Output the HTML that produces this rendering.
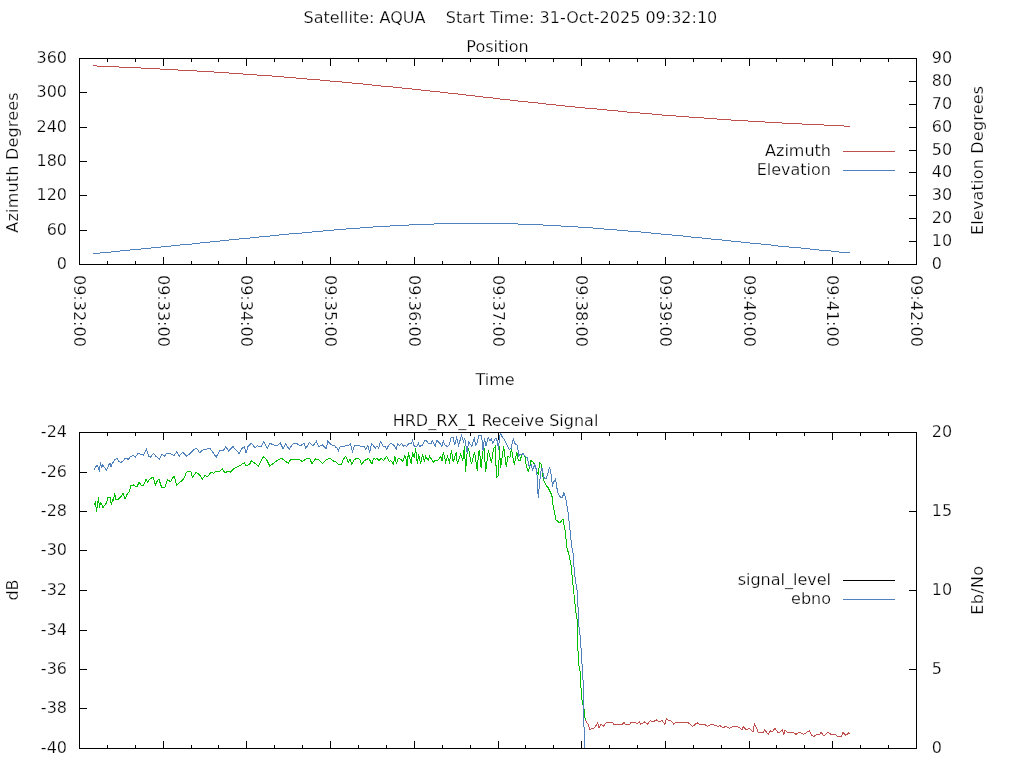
<!DOCTYPE html>
<html><head><meta charset="utf-8"><title>Satellite pass</title>
<style>html,body{margin:0;padding:0;background:#fff;overflow:hidden}svg{display:block}</style></head>
<body><svg width="1024" height="768" viewBox="0 0 1024 768">
<rect width="1024" height="768" fill="#fff"/>
<g font-family="'DejaVu Sans', 'Liberation Sans', sans-serif" font-size="16" fill="#000" stroke="#fff" stroke-width="0.25">
<text x="303.5" y="23" text-anchor="start" >Satellite: AQUA&#160;&#160;&#160; Start Time: 31-Oct-2025 09:32:10</text>
<text x="497.5" y="52" text-anchor="middle" >Position</text>
<text x="495" y="385" text-anchor="middle" >Time</text>
<text x="495.5" y="426" text-anchor="middle" >HRD_RX_1 Receive Signal</text>
<text transform="translate(18,162.4) rotate(-90)" text-anchor="middle" letter-spacing="0.2">Azimuth Degrees</text>
<text transform="translate(983,160.4) rotate(-90)" text-anchor="middle" letter-spacing="0.2">Elevation Degrees</text>
<text transform="translate(18,590) rotate(-90)" text-anchor="middle">dB</text>
<text transform="translate(983,590.2) rotate(-90)" text-anchor="middle" letter-spacing="0.3">Eb/No</text>
<text x="67" y="269" text-anchor="end" >0</text>
<text x="67" y="235" text-anchor="end" >60</text>
<text x="67" y="200" text-anchor="end" >120</text>
<text x="67" y="166" text-anchor="end" >180</text>
<text x="67" y="132" text-anchor="end" >240</text>
<text x="67" y="97" text-anchor="end" >300</text>
<text x="67" y="63" text-anchor="end" >360</text>
<text x="931.8" y="269" text-anchor="start" >0</text>
<text x="931.8" y="246" text-anchor="start" >10</text>
<text x="931.8" y="223" text-anchor="start" >20</text>
<text x="931.8" y="200" text-anchor="start" >30</text>
<text x="931.8" y="177" text-anchor="start" >40</text>
<text x="931.8" y="155" text-anchor="start" >50</text>
<text x="931.8" y="132" text-anchor="start" >60</text>
<text x="931.8" y="109" text-anchor="start" >70</text>
<text x="931.8" y="86" text-anchor="start" >80</text>
<text x="931.8" y="63" text-anchor="start" >90</text>
<text x="67" y="753" text-anchor="end" >-40</text>
<text x="67" y="713" text-anchor="end" >-38</text>
<text x="67" y="674" text-anchor="end" >-36</text>
<text x="67" y="635" text-anchor="end" >-34</text>
<text x="67" y="595" text-anchor="end" >-32</text>
<text x="67" y="555" text-anchor="end" >-30</text>
<text x="67" y="516" text-anchor="end" >-28</text>
<text x="67" y="477" text-anchor="end" >-26</text>
<text x="67" y="437" text-anchor="end" >-24</text>
<text x="931.8" y="753" text-anchor="start" >0</text>
<text x="931.8" y="674" text-anchor="start" >5</text>
<text x="931.8" y="595" text-anchor="start" >10</text>
<text x="931.8" y="516" text-anchor="start" >15</text>
<text x="931.8" y="437" text-anchor="start" >20</text>
<text transform="translate(74,275) rotate(90)">09:32:00</text>
<text transform="translate(158,275) rotate(90)">09:33:00</text>
<text transform="translate(241,275) rotate(90)">09:34:00</text>
<text transform="translate(325,275) rotate(90)">09:35:00</text>
<text transform="translate(409,275) rotate(90)">09:36:00</text>
<text transform="translate(493,275) rotate(90)">09:37:00</text>
<text transform="translate(576,275) rotate(90)">09:38:00</text>
<text transform="translate(660,275) rotate(90)">09:39:00</text>
<text transform="translate(744,275) rotate(90)">09:40:00</text>
<text transform="translate(827,275) rotate(90)">09:41:00</text>
<text transform="translate(911,275) rotate(90)">09:42:00</text>
<text x="831" y="156" text-anchor="end" >Azimuth</text>
<text x="831" y="175" text-anchor="end" >Elevation</text>
<text x="831" y="585" text-anchor="end" >signal_level</text>
<text x="831" y="604" text-anchor="end" >ebno</text>
</g>
<rect x="843" y="151" width="52" height="1" fill="#c0504d"/>
<rect x="843" y="170" width="52" height="1" fill="#4f81bd"/>
<rect x="843" y="580" width="52" height="1" fill="#000"/>
<rect x="843" y="599" width="52" height="1" fill="#4f81bd"/>
<rect x="93" y="65" width="4" height="1" fill="#c0504d"/>
<rect x="97" y="66" width="22" height="1" fill="#c0504d"/>
<rect x="119" y="67" width="22" height="1" fill="#c0504d"/>
<rect x="141" y="68" width="19" height="1" fill="#c0504d"/>
<rect x="160" y="69" width="18" height="1" fill="#c0504d"/>
<rect x="178" y="70" width="19" height="1" fill="#c0504d"/>
<rect x="197" y="71" width="17" height="1" fill="#c0504d"/>
<rect x="214" y="72" width="15" height="1" fill="#c0504d"/>
<rect x="229" y="73" width="14" height="1" fill="#c0504d"/>
<rect x="243" y="74" width="14" height="1" fill="#c0504d"/>
<rect x="257" y="75" width="15" height="1" fill="#c0504d"/>
<rect x="272" y="76" width="12" height="1" fill="#c0504d"/>
<rect x="284" y="77" width="12" height="1" fill="#c0504d"/>
<rect x="296" y="78" width="11" height="1" fill="#c0504d"/>
<rect x="307" y="79" width="13" height="1" fill="#c0504d"/>
<rect x="320" y="80" width="10" height="1" fill="#c0504d"/>
<rect x="330" y="81" width="12" height="1" fill="#c0504d"/>
<rect x="342" y="82" width="10" height="1" fill="#c0504d"/>
<rect x="352" y="83" width="11" height="1" fill="#c0504d"/>
<rect x="363" y="84" width="9" height="1" fill="#c0504d"/>
<rect x="372" y="85" width="9" height="1" fill="#c0504d"/>
<rect x="381" y="86" width="12" height="1" fill="#c0504d"/>
<rect x="393" y="87" width="9" height="1" fill="#c0504d"/>
<rect x="402" y="88" width="10" height="1" fill="#c0504d"/>
<rect x="412" y="89" width="9" height="1" fill="#c0504d"/>
<rect x="421" y="90" width="9" height="1" fill="#c0504d"/>
<rect x="430" y="91" width="10" height="1" fill="#c0504d"/>
<rect x="440" y="92" width="8" height="1" fill="#c0504d"/>
<rect x="448" y="93" width="10" height="1" fill="#c0504d"/>
<rect x="458" y="94" width="8" height="1" fill="#c0504d"/>
<rect x="466" y="95" width="9" height="1" fill="#c0504d"/>
<rect x="475" y="96" width="8" height="1" fill="#c0504d"/>
<rect x="483" y="97" width="10" height="1" fill="#c0504d"/>
<rect x="493" y="98" width="7" height="1" fill="#c0504d"/>
<rect x="500" y="99" width="10" height="1" fill="#c0504d"/>
<rect x="510" y="100" width="8" height="1" fill="#c0504d"/>
<rect x="518" y="101" width="10" height="1" fill="#c0504d"/>
<rect x="528" y="102" width="10" height="1" fill="#c0504d"/>
<rect x="538" y="103" width="8" height="1" fill="#c0504d"/>
<rect x="546" y="104" width="10" height="1" fill="#c0504d"/>
<rect x="556" y="105" width="9" height="1" fill="#c0504d"/>
<rect x="565" y="106" width="10" height="1" fill="#c0504d"/>
<rect x="575" y="107" width="10" height="1" fill="#c0504d"/>
<rect x="585" y="108" width="12" height="1" fill="#c0504d"/>
<rect x="597" y="109" width="10" height="1" fill="#c0504d"/>
<rect x="607" y="110" width="11" height="1" fill="#c0504d"/>
<rect x="618" y="111" width="9" height="1" fill="#c0504d"/>
<rect x="627" y="112" width="13" height="1" fill="#c0504d"/>
<rect x="640" y="113" width="12" height="1" fill="#c0504d"/>
<rect x="652" y="114" width="10" height="1" fill="#c0504d"/>
<rect x="662" y="115" width="14" height="1" fill="#c0504d"/>
<rect x="676" y="116" width="13" height="1" fill="#c0504d"/>
<rect x="689" y="117" width="15" height="1" fill="#c0504d"/>
<rect x="704" y="118" width="13" height="1" fill="#c0504d"/>
<rect x="717" y="119" width="14" height="1" fill="#c0504d"/>
<rect x="731" y="120" width="17" height="1" fill="#c0504d"/>
<rect x="748" y="121" width="17" height="1" fill="#c0504d"/>
<rect x="765" y="122" width="17" height="1" fill="#c0504d"/>
<rect x="782" y="123" width="20" height="1" fill="#c0504d"/>
<rect x="802" y="124" width="22" height="1" fill="#c0504d"/>
<rect x="824" y="125" width="20" height="1" fill="#c0504d"/>
<rect x="844" y="126" width="6" height="1" fill="#c0504d"/>
<rect x="93" y="253" width="7" height="1" fill="#4f81bd"/>
<rect x="100" y="252" width="11" height="1" fill="#4f81bd"/>
<rect x="111" y="251" width="9" height="1" fill="#4f81bd"/>
<rect x="120" y="250" width="10" height="1" fill="#4f81bd"/>
<rect x="130" y="249" width="11" height="1" fill="#4f81bd"/>
<rect x="141" y="248" width="10" height="1" fill="#4f81bd"/>
<rect x="151" y="247" width="10" height="1" fill="#4f81bd"/>
<rect x="161" y="246" width="10" height="1" fill="#4f81bd"/>
<rect x="171" y="245" width="9" height="1" fill="#4f81bd"/>
<rect x="180" y="244" width="12" height="1" fill="#4f81bd"/>
<rect x="192" y="243" width="8" height="1" fill="#4f81bd"/>
<rect x="200" y="242" width="10" height="1" fill="#4f81bd"/>
<rect x="210" y="241" width="10" height="1" fill="#4f81bd"/>
<rect x="220" y="240" width="9" height="1" fill="#4f81bd"/>
<rect x="229" y="239" width="10" height="1" fill="#4f81bd"/>
<rect x="239" y="238" width="11" height="1" fill="#4f81bd"/>
<rect x="250" y="237" width="9" height="1" fill="#4f81bd"/>
<rect x="259" y="236" width="11" height="1" fill="#4f81bd"/>
<rect x="270" y="235" width="9" height="1" fill="#4f81bd"/>
<rect x="279" y="234" width="10" height="1" fill="#4f81bd"/>
<rect x="289" y="233" width="13" height="1" fill="#4f81bd"/>
<rect x="302" y="232" width="10" height="1" fill="#4f81bd"/>
<rect x="312" y="231" width="11" height="1" fill="#4f81bd"/>
<rect x="323" y="230" width="11" height="1" fill="#4f81bd"/>
<rect x="334" y="229" width="12" height="1" fill="#4f81bd"/>
<rect x="346" y="228" width="14" height="1" fill="#4f81bd"/>
<rect x="360" y="227" width="13" height="1" fill="#4f81bd"/>
<rect x="373" y="226" width="17" height="1" fill="#4f81bd"/>
<rect x="390" y="225" width="19" height="1" fill="#4f81bd"/>
<rect x="409" y="224" width="25" height="1" fill="#4f81bd"/>
<rect x="434" y="223" width="84" height="1" fill="#4f81bd"/>
<rect x="518" y="224" width="25" height="1" fill="#4f81bd"/>
<rect x="543" y="225" width="18" height="1" fill="#4f81bd"/>
<rect x="561" y="226" width="17" height="1" fill="#4f81bd"/>
<rect x="578" y="227" width="15" height="1" fill="#4f81bd"/>
<rect x="593" y="228" width="11" height="1" fill="#4f81bd"/>
<rect x="604" y="229" width="13" height="1" fill="#4f81bd"/>
<rect x="617" y="230" width="11" height="1" fill="#4f81bd"/>
<rect x="628" y="231" width="13" height="1" fill="#4f81bd"/>
<rect x="641" y="232" width="10" height="1" fill="#4f81bd"/>
<rect x="651" y="233" width="10" height="1" fill="#4f81bd"/>
<rect x="661" y="234" width="11" height="1" fill="#4f81bd"/>
<rect x="672" y="235" width="11" height="1" fill="#4f81bd"/>
<rect x="683" y="236" width="8" height="1" fill="#4f81bd"/>
<rect x="691" y="237" width="11" height="1" fill="#4f81bd"/>
<rect x="702" y="238" width="9" height="1" fill="#4f81bd"/>
<rect x="711" y="239" width="11" height="1" fill="#4f81bd"/>
<rect x="722" y="240" width="9" height="1" fill="#4f81bd"/>
<rect x="731" y="241" width="10" height="1" fill="#4f81bd"/>
<rect x="741" y="242" width="9" height="1" fill="#4f81bd"/>
<rect x="750" y="243" width="11" height="1" fill="#4f81bd"/>
<rect x="761" y="244" width="10" height="1" fill="#4f81bd"/>
<rect x="771" y="245" width="7" height="1" fill="#4f81bd"/>
<rect x="778" y="246" width="11" height="1" fill="#4f81bd"/>
<rect x="789" y="247" width="12" height="1" fill="#4f81bd"/>
<rect x="801" y="248" width="9" height="1" fill="#4f81bd"/>
<rect x="810" y="249" width="9" height="1" fill="#4f81bd"/>
<rect x="819" y="250" width="12" height="1" fill="#4f81bd"/>
<rect x="831" y="251" width="8" height="1" fill="#4f81bd"/>
<rect x="839" y="252" width="11" height="1" fill="#4f81bd"/>
<polyline points="585.1,719.8 588.0,724.2 590.2,730.0 591.7,728.5 594.6,727.8 597.6,722.7 599.0,727.8 601.2,724.2 603.4,726.4 606.4,722.3 612.2,722.3 613.7,724.2 622.5,724.2 623.9,722.3 625.4,724.2 629.8,724.2 630.5,722.3 634.9,722.3 637.1,724.2 639.3,722.0 640.8,724.2 644.4,722.0 647.3,724.2 650.3,720.5 653.2,722.0 656.1,719.8 659.1,722.0 662.0,720.5 664.9,724.2 666.4,718.3 668.6,720.5 671.5,721.2 673.7,724.2 675.9,722.3 687.6,722.3 692.7,726.4 697.1,722.7 699.3,724.2 704.5,724.2 707.4,726.4 711.8,724.2 718.4,726.4 720.0,725.6 722.9,727.8 725.9,726.4 729.5,728.5 733.2,726.4 736.8,726.4 739.8,727.8 742.0,730.0 743.4,726.4 746.4,730.0 749.3,728.5 753.0,732.2 754.4,724.2 755.9,726.4 758.1,732.2 763.2,732.2 764.7,730.0 768.3,734.4 770.5,730.7 772.0,732.2 774.9,728.5 777.8,732.2 780.0,732.2 782.2,730.0 783.7,734.4 785.2,730.0 787.3,732.2 793.2,732.2 796.1,734.4 799.1,732.2 803.5,734.4 809.3,730.7 811.5,735.1 813.7,736.6 816.6,734.4 819.6,734.4 821.0,732.2 824.0,735.9 827.6,732.2 831.3,734.4 835.7,734.4 837.1,736.3 841.5,736.3 843.0,732.2 845.2,735.1 847.4,734.4 848.8,732.2 849.6,734.4" fill="none" stroke="#c0504d" stroke-width="1" stroke-linejoin="miter" shape-rendering="crispEdges"/>
<polyline points="94.0,505.0 95.5,502.0 96.5,511.5 97.5,505.0 98.5,497.5 99.5,508.0 100.5,502.5 101.5,504.0 103.0,507.5 106.5,503.0 108.0,497.5 110.0,497.5 111.5,505.0 112.5,500.0 113.5,500.5 114.5,493.5 116.0,499.5 118.5,499.0 121.0,496.5 123.0,493.5 125.0,499.0 127.0,494.5 129.0,492.0 131.0,485.5 133.5,485.0 135.0,486.0 137.0,487.0 139.0,482.0 141.5,485.5 143.5,485.0 146.0,479.5 147.5,482.0 150.0,479.0 153.0,477.0 155.5,485.0 157.5,480.5 159.0,479.5 161.5,487.0 165.0,487.0 167.5,479.5 170.5,481.8 174.0,475.7 176.7,485.4 179.3,482.7 183.7,479.2 186.4,472.2 190.8,471.3 192.5,477.5 196.0,472.2 199.5,474.8 202.2,479.2 204.8,475.7 207.5,476.6 211.0,472.2 213.6,473.1 216.2,471.3 219.8,471.3 222.4,468.7 225.0,473.1 227.7,471.3 230.3,472.2 233.8,468.7 237.3,466.9 240.8,465.1 244.4,462.5 246.1,466.0 249.6,464.3 251.4,460.8 254.0,462.5 258.4,466.0 261.1,460.8 263.7,456.4 267.2,460.8 269.8,466.0 273.4,463.4 276.9,460.8 281.3,458.1 284.8,460.8 288.3,463.4 290.9,459.0 294.4,459.9 298.0,459.0 302.4,461.6 305.9,459.0 309.4,458.1 312.0,463.4 315.5,459.0 319.0,459.9 322.6,463.4 326.1,459.9 329.6,458.1 333.1,460.8 336.0,462.1 338.0,464.1 341.5,464.1 343.5,459.0 345.6,456.3 348.3,462.1 350.0,459.0 351.7,464.1 354.5,459.3 357.9,458.3 359.6,459.3 361.6,464.1 364.7,460.4 368.8,458.3 371.9,464.1 373.6,458.3 375.6,459.3 377.0,458.3 379.1,460.4 381.1,458.3 383.8,460.4 386.6,456.3 389.3,461.4 390.7,460.4 393.4,464.1 394.8,456.3 396.5,464.1 398.2,458.3 400.3,459.0 403.0,461.4 404.7,456.3 405.7,457.3 407.1,466.2 408.4,452.5 411.2,464.1 412.5,452.5 414.3,458.3 415.6,448.4 417.3,464.1 418.7,454.2 420.7,464.1 422.5,454.2 424.5,462.1 425.5,456.3 428.3,460.4 429.6,456.3 433.4,462.1 435.4,460.0 438.2,460.0 440.9,456.3 441.9,461.4 443.3,452.2 445.7,462.1 447.4,456.3 449.5,462.1 451.5,450.1 453.2,462.1 456.3,452.2 457.3,464.1 460.7,454.2 462.8,460.4 464.5,446.4 465.5,471.6 467.6,447.7 468.9,450.1 471.3,464.1 474.6,452.5 477.2,470.7 478.5,453.1 479.5,450.2 481.1,468.4 482.7,452.1 484.0,448.2 485.7,471.7 488.3,450.2 491.5,462.6 493.5,448.9 495.4,446.3 496.4,477.5 498.7,475.6 499.3,446.0 500.6,468.4 503.6,446.3 506.2,466.5 508.1,456.0 509.8,458.0 511.4,449.2 514.3,464.5 516.9,452.1 518.2,460.0 520.2,460.0 522.0,454.7 523.1,453.7 525.1,456.8 526.2,465.8 528.2,471.2 529.8,466.6 530.9,460.7 532.9,461.9 534.8,464.6 536.4,470.1 538.4,475.2 539.5,462.7 541.1,464.2 542.7,475.9 544.2,481.4 545.8,484.9 548.1,487.7 550.1,491.6 551.6,494.7 552.8,500.0 553.0,505.0 556.0,520.0 560.0,523.0 563.0,519.0 565.0,530.0 567.0,548.0 569.0,555.0 571.0,565.0 572.0,575.0 573.0,585.0 574.6,600.0 575.6,610.0 577.2,620.0 577.7,645.0 578.8,665.0 580.3,672.0 580.6,680.0 581.4,696.0 582.4,703.0 584.2,710.0 585.2,720.0" fill="none" stroke="#00c000" stroke-width="1" stroke-linejoin="miter" shape-rendering="crispEdges"/>
<polyline points="94.0,470.3 96.5,465.5 97.5,466.0 99.5,470.5 100.5,462.0 101.5,468.0 102.5,465.0 103.5,466.0 106.5,470.5 109.0,464.5 110.0,463.0 111.0,467.0 112.0,464.0 113.5,462.0 114.5,460.0 117.0,458.0 118.5,461.0 121.0,462.5 123.0,461.0 125.0,458.5 127.0,458.0 128.0,460.0 130.0,457.0 133.0,455.5 135.5,457.0 138.0,453.5 142.0,454.5 143.5,455.0 146.5,449.0 148.5,456.0 150.5,457.0 153.5,453.5 156.0,456.5 159.5,459.0 162.0,454.0 164.5,456.0 167.0,453.0 170.5,453.7 174.0,455.5 176.7,452.0 179.3,456.0 182.8,452.0 186.4,456.0 189.0,454.6 191.6,452.0 194.3,449.3 196.9,448.5 199.5,452.8 202.2,450.2 205.7,449.3 210.0,448.5 212.7,452.0 216.2,457.2 219.8,450.2 223.3,450.7 225.9,446.7 228.5,451.1 233.0,446.7 236.4,450.2 239.1,453.7 241.7,448.5 244.4,446.7 246.1,452.8 247.9,446.7 251.4,443.2 254.9,447.6 257.5,445.8 261.1,446.7 263.7,441.4 267.2,448.5 269.8,443.2 273.4,444.9 276.9,445.8 280.4,443.2 283.0,448.5 285.7,444.1 289.2,449.3 292.7,444.1 296.2,443.2 300.6,445.8 304.1,443.2 305.9,448.5 309.4,442.3 312.9,445.8 316.4,441.4 319.0,446.7 322.6,444.9 326.1,448.5 327.8,441.4 331.4,444.9 334.9,445.8 336.0,447.4 337.0,448.0 338.4,451.1 340.1,446.4 344.2,446.4 345.6,445.3 348.6,445.3 350.4,443.6 352.4,451.5 354.5,445.3 359.6,445.3 360.6,446.4 364.0,446.4 365.7,449.4 367.8,445.3 368.8,448.4 369.5,453.2 371.5,443.3 373.3,445.3 375.3,448.4 377.0,445.7 378.7,448.4 380.4,441.6 383.2,446.0 385.2,446.4 386.6,449.4 388.6,445.3 390.7,443.3 394.1,445.3 396.2,449.4 397.5,443.3 399.6,445.3 401.6,443.3 403.7,446.4 405.4,445.3 406.7,446.4 408.8,443.3 411.2,443.6 412.5,440.5 414.3,446.4 417.0,446.4 418.4,443.3 419.4,446.4 422.5,445.3 424.5,440.5 426.2,440.5 428.3,443.3 431.3,443.3 432.4,440.5 435.1,446.4 436.8,440.5 439.5,442.9 441.9,446.4 443.3,441.2 445.0,445.3 447.4,446.4 449.5,444.3 451.2,437.5 453.2,437.5 454.6,445.3 456.6,437.5 458.7,445.3 461.4,435.4 463.5,441.6 464.8,438.2 466.5,449.1 467.2,452.5 468.6,441.6 471.7,446.4 474.3,438.5 475.6,445.3 477.2,442.4 478.8,435.9 481.4,435.2 482.4,443.0 483.1,450.8 484.4,438.5 486.0,445.6 488.3,437.5 489.9,441.1 491.5,438.5 492.5,443.3 495.4,438.5 496.7,438.8 498.0,446.0 498.7,449.5 499.3,437.2 500.6,433.3 502.6,437.8 503.9,439.1 506.2,443.7 509.4,449.5 511.1,448.2 513.3,438.5 515.0,443.7 517.6,445.6 518.5,456.0 520.2,454.4 522.0,454.4 523.1,453.7 525.1,456.4 527.4,457.6 528.6,465.0 529.8,466.2 531.3,465.0 532.5,470.0 534.8,464.6 536.4,469.7 537.2,476.7 537.6,489.2 538.4,498.2 538.8,490.8 539.9,479.8 540.7,472.0 541.9,468.1 542.7,471.2 544.2,478.3 546.2,478.3 548.1,472.8 549.3,467.7 550.5,469.7 552.0,482.2 552.4,486.5 553.2,482.6 554.4,481.0 555.5,478.7 556.7,486.9 557.9,493.1 560.6,497.4 562.6,497.0 563.8,492.7 564.9,495.5 565.7,498.6 568.0,512.0 570.0,530.0 571.0,540.0 572.0,548.0 573.0,553.0 574.0,567.0 575.0,577.0 576.0,584.0 577.0,590.0 577.5,600.0 578.2,610.0 579.0,627.0 580.3,637.0 581.4,654.0 582.4,670.0 583.0,680.0 583.4,684.0 583.8,718.0 584.5,748.0" fill="none" stroke="#4f81bd" stroke-width="1" stroke-linejoin="miter" shape-rendering="crispEdges"/>
<rect x="79" y="58" width="838" height="1" fill="#000"/>
<rect x="79" y="264" width="838" height="1" fill="#000"/>
<rect x="79" y="58" width="1" height="207" fill="#000"/>
<rect x="916" y="58" width="1" height="207" fill="#000"/>
<rect x="79" y="432" width="838" height="1" fill="#000"/>
<rect x="79" y="748" width="838" height="1" fill="#000"/>
<rect x="79" y="432" width="1" height="317" fill="#000"/>
<rect x="916" y="432" width="1" height="317" fill="#000"/>
<rect x="107" y="261" width="1" height="4" fill="#000"/>
<rect x="107" y="58" width="1" height="4" fill="#000"/>
<rect x="135" y="261" width="1" height="4" fill="#000"/>
<rect x="135" y="58" width="1" height="4" fill="#000"/>
<rect x="163" y="257" width="1" height="8" fill="#000"/>
<rect x="163" y="58" width="1" height="8" fill="#000"/>
<rect x="191" y="261" width="1" height="4" fill="#000"/>
<rect x="191" y="58" width="1" height="4" fill="#000"/>
<rect x="218" y="261" width="1" height="4" fill="#000"/>
<rect x="218" y="58" width="1" height="4" fill="#000"/>
<rect x="246" y="257" width="1" height="8" fill="#000"/>
<rect x="246" y="58" width="1" height="8" fill="#000"/>
<rect x="274" y="261" width="1" height="4" fill="#000"/>
<rect x="274" y="58" width="1" height="4" fill="#000"/>
<rect x="302" y="261" width="1" height="4" fill="#000"/>
<rect x="302" y="58" width="1" height="4" fill="#000"/>
<rect x="330" y="257" width="1" height="8" fill="#000"/>
<rect x="330" y="58" width="1" height="8" fill="#000"/>
<rect x="358" y="261" width="1" height="4" fill="#000"/>
<rect x="358" y="58" width="1" height="4" fill="#000"/>
<rect x="386" y="261" width="1" height="4" fill="#000"/>
<rect x="386" y="58" width="1" height="4" fill="#000"/>
<rect x="414" y="257" width="1" height="8" fill="#000"/>
<rect x="414" y="58" width="1" height="8" fill="#000"/>
<rect x="442" y="261" width="1" height="4" fill="#000"/>
<rect x="442" y="58" width="1" height="4" fill="#000"/>
<rect x="470" y="261" width="1" height="4" fill="#000"/>
<rect x="470" y="58" width="1" height="4" fill="#000"/>
<rect x="498" y="257" width="1" height="8" fill="#000"/>
<rect x="498" y="58" width="1" height="8" fill="#000"/>
<rect x="525" y="261" width="1" height="4" fill="#000"/>
<rect x="525" y="58" width="1" height="4" fill="#000"/>
<rect x="553" y="261" width="1" height="4" fill="#000"/>
<rect x="553" y="58" width="1" height="4" fill="#000"/>
<rect x="581" y="257" width="1" height="8" fill="#000"/>
<rect x="581" y="58" width="1" height="8" fill="#000"/>
<rect x="609" y="261" width="1" height="4" fill="#000"/>
<rect x="609" y="58" width="1" height="4" fill="#000"/>
<rect x="637" y="261" width="1" height="4" fill="#000"/>
<rect x="637" y="58" width="1" height="4" fill="#000"/>
<rect x="665" y="257" width="1" height="8" fill="#000"/>
<rect x="665" y="58" width="1" height="8" fill="#000"/>
<rect x="693" y="261" width="1" height="4" fill="#000"/>
<rect x="693" y="58" width="1" height="4" fill="#000"/>
<rect x="721" y="261" width="1" height="4" fill="#000"/>
<rect x="721" y="58" width="1" height="4" fill="#000"/>
<rect x="749" y="257" width="1" height="8" fill="#000"/>
<rect x="749" y="58" width="1" height="8" fill="#000"/>
<rect x="776" y="261" width="1" height="4" fill="#000"/>
<rect x="776" y="58" width="1" height="4" fill="#000"/>
<rect x="804" y="261" width="1" height="4" fill="#000"/>
<rect x="804" y="58" width="1" height="4" fill="#000"/>
<rect x="832" y="257" width="1" height="8" fill="#000"/>
<rect x="832" y="58" width="1" height="8" fill="#000"/>
<rect x="860" y="261" width="1" height="4" fill="#000"/>
<rect x="860" y="58" width="1" height="4" fill="#000"/>
<rect x="888" y="261" width="1" height="4" fill="#000"/>
<rect x="888" y="58" width="1" height="4" fill="#000"/>
<rect x="107" y="745" width="1" height="4" fill="#000"/>
<rect x="107" y="432" width="1" height="4" fill="#000"/>
<rect x="135" y="745" width="1" height="4" fill="#000"/>
<rect x="135" y="432" width="1" height="4" fill="#000"/>
<rect x="163" y="741" width="1" height="8" fill="#000"/>
<rect x="163" y="432" width="1" height="8" fill="#000"/>
<rect x="191" y="745" width="1" height="4" fill="#000"/>
<rect x="191" y="432" width="1" height="4" fill="#000"/>
<rect x="218" y="745" width="1" height="4" fill="#000"/>
<rect x="218" y="432" width="1" height="4" fill="#000"/>
<rect x="246" y="741" width="1" height="8" fill="#000"/>
<rect x="246" y="432" width="1" height="8" fill="#000"/>
<rect x="274" y="745" width="1" height="4" fill="#000"/>
<rect x="274" y="432" width="1" height="4" fill="#000"/>
<rect x="302" y="745" width="1" height="4" fill="#000"/>
<rect x="302" y="432" width="1" height="4" fill="#000"/>
<rect x="330" y="741" width="1" height="8" fill="#000"/>
<rect x="330" y="432" width="1" height="8" fill="#000"/>
<rect x="358" y="745" width="1" height="4" fill="#000"/>
<rect x="358" y="432" width="1" height="4" fill="#000"/>
<rect x="386" y="745" width="1" height="4" fill="#000"/>
<rect x="386" y="432" width="1" height="4" fill="#000"/>
<rect x="414" y="741" width="1" height="8" fill="#000"/>
<rect x="414" y="432" width="1" height="8" fill="#000"/>
<rect x="442" y="745" width="1" height="4" fill="#000"/>
<rect x="442" y="432" width="1" height="4" fill="#000"/>
<rect x="470" y="745" width="1" height="4" fill="#000"/>
<rect x="470" y="432" width="1" height="4" fill="#000"/>
<rect x="498" y="741" width="1" height="8" fill="#000"/>
<rect x="498" y="432" width="1" height="8" fill="#000"/>
<rect x="525" y="745" width="1" height="4" fill="#000"/>
<rect x="525" y="432" width="1" height="4" fill="#000"/>
<rect x="553" y="745" width="1" height="4" fill="#000"/>
<rect x="553" y="432" width="1" height="4" fill="#000"/>
<rect x="581" y="741" width="1" height="8" fill="#000"/>
<rect x="581" y="432" width="1" height="8" fill="#000"/>
<rect x="609" y="745" width="1" height="4" fill="#000"/>
<rect x="609" y="432" width="1" height="4" fill="#000"/>
<rect x="637" y="745" width="1" height="4" fill="#000"/>
<rect x="637" y="432" width="1" height="4" fill="#000"/>
<rect x="665" y="741" width="1" height="8" fill="#000"/>
<rect x="665" y="432" width="1" height="8" fill="#000"/>
<rect x="693" y="745" width="1" height="4" fill="#000"/>
<rect x="693" y="432" width="1" height="4" fill="#000"/>
<rect x="721" y="745" width="1" height="4" fill="#000"/>
<rect x="721" y="432" width="1" height="4" fill="#000"/>
<rect x="749" y="741" width="1" height="8" fill="#000"/>
<rect x="749" y="432" width="1" height="8" fill="#000"/>
<rect x="776" y="745" width="1" height="4" fill="#000"/>
<rect x="776" y="432" width="1" height="4" fill="#000"/>
<rect x="804" y="745" width="1" height="4" fill="#000"/>
<rect x="804" y="432" width="1" height="4" fill="#000"/>
<rect x="832" y="741" width="1" height="8" fill="#000"/>
<rect x="832" y="432" width="1" height="8" fill="#000"/>
<rect x="860" y="745" width="1" height="4" fill="#000"/>
<rect x="860" y="432" width="1" height="4" fill="#000"/>
<rect x="888" y="745" width="1" height="4" fill="#000"/>
<rect x="888" y="432" width="1" height="4" fill="#000"/>
<rect x="79" y="230" width="8" height="1" fill="#000"/>
<rect x="79" y="195" width="8" height="1" fill="#000"/>
<rect x="79" y="161" width="8" height="1" fill="#000"/>
<rect x="79" y="127" width="8" height="1" fill="#000"/>
<rect x="79" y="92" width="8" height="1" fill="#000"/>
<rect x="909" y="241" width="8" height="1" fill="#000"/>
<rect x="909" y="218" width="8" height="1" fill="#000"/>
<rect x="909" y="195" width="8" height="1" fill="#000"/>
<rect x="909" y="172" width="8" height="1" fill="#000"/>
<rect x="909" y="150" width="8" height="1" fill="#000"/>
<rect x="909" y="127" width="8" height="1" fill="#000"/>
<rect x="909" y="104" width="8" height="1" fill="#000"/>
<rect x="909" y="81" width="8" height="1" fill="#000"/>
<rect x="79" y="708" width="8" height="1" fill="#000"/>
<rect x="79" y="669" width="8" height="1" fill="#000"/>
<rect x="79" y="630" width="8" height="1" fill="#000"/>
<rect x="79" y="590" width="8" height="1" fill="#000"/>
<rect x="79" y="550" width="8" height="1" fill="#000"/>
<rect x="79" y="511" width="8" height="1" fill="#000"/>
<rect x="79" y="472" width="8" height="1" fill="#000"/>
<rect x="909" y="669" width="8" height="1" fill="#000"/>
<rect x="909" y="590" width="8" height="1" fill="#000"/>
<rect x="909" y="511" width="8" height="1" fill="#000"/>
</svg></body></html>
